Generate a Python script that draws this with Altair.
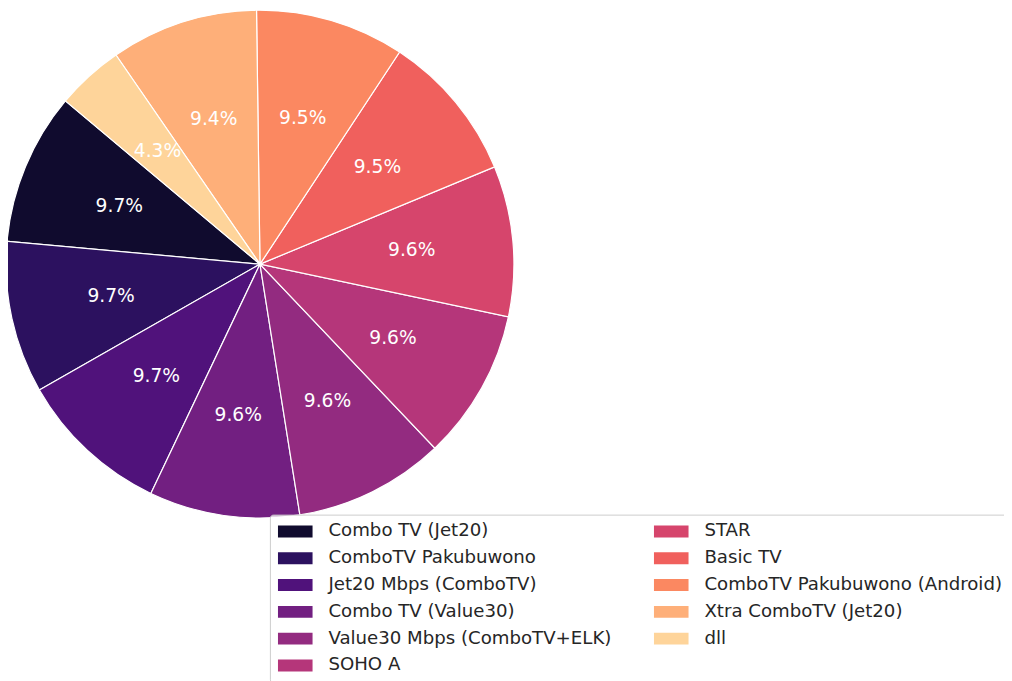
import math
import altair as alt
import pandas as pd

categories = [
    "Combo TV (Jet20)",
    "ComboTV Pakubuwono",
    "Jet20 Mbps (ComboTV)",
    "Combo TV (Value30)",
    "Value30 Mbps (ComboTV+ELK)",
    "SOHO A",
    "STAR",
    "Basic TV",
    "ComboTV Pakubuwono (Android)",
    "Xtra ComboTV (Jet20)",
    "dll",
]
shares = [9.7, 9.7, 9.7, 9.6, 9.6, 9.6, 9.6, 9.5, 9.5, 9.4, 4.3]
colors = [
    "#100b2e", "#2c115f", "#50127b", "#721f81", "#932b80", "#b5367a",
    "#d6456c", "#f0605d", "#fb8861", "#feaf79", "#fed49a",
]

n = len(categories)
df = pd.DataFrame({
    "category": categories,
    "share": shares,
    "label": [f"{v:.1f}%" for v in shares],
    "ord": [n - 1 - i for i in range(n)],
})

start = math.radians(-50) + 2 * math.pi
theta = alt.Theta("share:Q", stack=True,
                  scale=alt.Scale(range=[start, start + 2 * math.pi]))
cx, cy, R = 254, 255.5, 256

base = alt.Chart(df).encode(
    theta=theta,
    order=alt.Order("ord:Q", sort="ascending"),
)

pie = base.mark_arc(outerRadius=R, stroke="white", strokeWidth=1.2).encode(
    x=alt.value(cx),
    y=alt.value(cy),
    color=alt.Color(
        "category:N",
        scale=alt.Scale(domain=categories, range=colors),
        legend=alt.Legend(
            title=None,
            orient="none",
            legendX=264,
            legendY=508,
            columns=2,
            symbolType="M-1,-0.343H1V0.343H-1Z",
            symbolSize=1225,
            symbolStrokeWidth=0,
            symbolOpacity=1,
            labelFontSize=18.3,
            labelFont="DejaVu Sans",
            labelColor="#262626",
            labelOffset=16,
            labelLimit=500,
            columnPadding=42,
            rowPadding=8,
            clipHeight=18,
            padding=8,
            strokeColor="#cccccc",
            fillColor="rgba(255,255,255,0.8)",
            cornerRadius=3,
        ),
    ),
)

labels = base.mark_text(
    radius=0.6 * R, fontSize=18.8, font="DejaVu Sans", color="white",
    align="center", baseline="middle",
).encode(
    x=alt.value(cx),
    y=alt.value(cy),
    text="label:N",
)

chart = (pie + labels).properties(
    width=1004, height=673, padding=0, autosize="none"
).configure_view(stroke=None)

chart.save("out.html", embed_options={"renderer": "svg", "actions": False})
